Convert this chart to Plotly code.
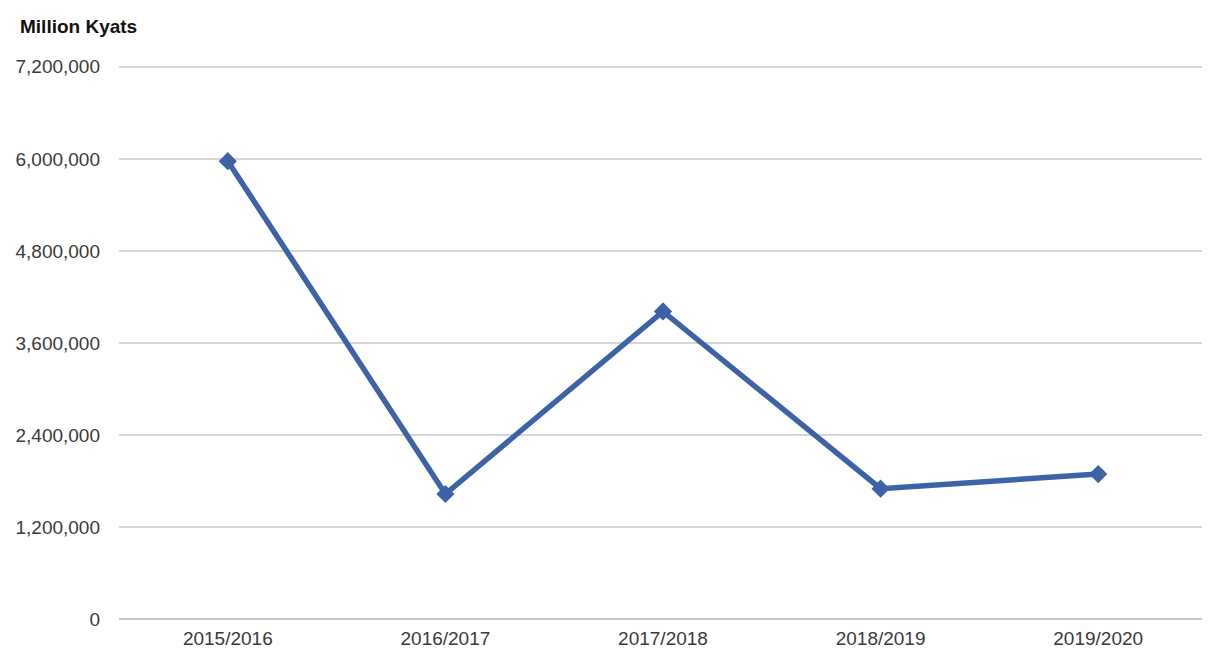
import plotly.graph_objects as go

years = ["2015/2016", "2016/2017", "2017/2018", "2018/2019", "2019/2020"]
values = [5970000, 1630000, 4010000, 1700000, 1890000]
y_ticks = [0, 1200000, 2400000, 3600000, 4800000, 6000000, 7200000]
y_tick_labels = ["0", "1,200,000", "2,400,000", "3,600,000", "4,800,000", "6,000,000", "7,200,000"]

fig = go.Figure()
fig.add_trace(go.Scatter(
    x=years, y=values, mode="lines+markers",
    line=dict(color="#3d62a6", width=5.5),
    marker=dict(symbol="diamond", size=14, color="#3d62a6"),
    showlegend=False,
))

plot_h = 661 - 55 - 50
fig.update_layout(
    width=1210, height=661,
    margin=dict(l=111, r=11, t=55, b=50, autoexpand=False),
    plot_bgcolor="white", paper_bgcolor="white",
    font=dict(family="Liberation Sans, Arial", size=19, color="#3a3a3a"),
    annotations=[dict(text="<b>Million Kyats</b>", xref="paper", yref="paper",
                      x=-101 / 1088, y=1.0 + 36 / plot_h, xanchor="left", yanchor="middle",
                      showarrow=False, font=dict(size=19, color="#111111"))],
)
fig.update_xaxes(type="category", range=[-0.5, 4.5], showgrid=False, automargin=False,
                 showline=False, ticks="", ticklabelstandoff=6)
fig.update_yaxes(range=[0, 7250000], tickvals=y_ticks, ticktext=y_tick_labels,
                 automargin=False,
                 showgrid=True, gridcolor="#d6d6d6", gridwidth=1.5,
                 zeroline=True, zerolinecolor="#c4c4c4", zerolinewidth=1.5,
                 showline=False, ticks="", ticklabelstandoff=18)

fig.write_html("out.html")
